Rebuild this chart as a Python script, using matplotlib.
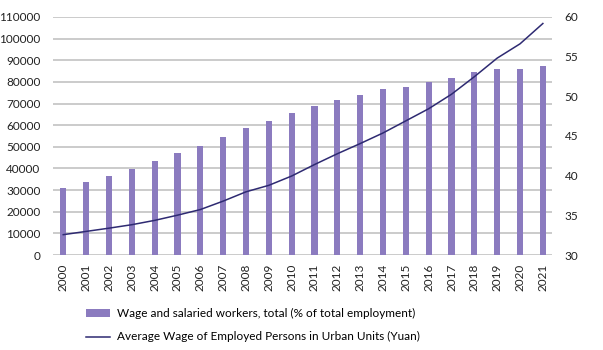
import matplotlib
matplotlib.use("Agg")
import matplotlib.pyplot as plt

years = [str(y) for y in range(2000, 2022)]
# share of wage and salaried workers (% of total employment), right axis
wage_share = [38.4, 39.2, 40.0, 40.9, 41.9, 42.8, 43.8, 44.9, 46.0, 46.9, 47.9,
              48.8, 49.6, 50.2, 50.9, 51.2, 51.8, 52.3, 53.1, 53.5, 53.5, 53.8]
# average wage of employed persons in urban units (yuan), left axis
avg_wage = [9400, 10900, 12400, 14000, 16000, 18400, 21000, 24900, 29200, 32200, 36500,
            41800, 46800, 51500, 56400, 62000, 67600, 74300, 82400, 91000, 97600, 107000]

bar_color = '#8b7bbf'
line_color = '#2e2a72'
plt.rcParams['font.family'] = ['Lato', 'DejaVu Sans']

fig = plt.figure(figsize=(6.03, 3.5), dpi=100)
rect = [53/603, 1 - 255/350, (552 - 53)/603, (255 - 17)/350]
x = list(range(len(years)))

# base axes: left scale + grid
ax = fig.add_axes(rect)
ax.set_zorder(0)
ax.set_ylim(0, 110000)
ax.set_yticks(range(0, 110001, 10000))
ax.yaxis.grid(True, color='#bdbdbd', lw=1.1)
ax.set_axisbelow(True)
ax.set_xlim(-0.45, 21.4)
ax.set_xticks(x)
ax.set_xticklabels(years, rotation=90)
for s in ax.spines.values():
    s.set_visible(False)
ax.tick_params(length=0, labelsize=8.5, colors='#222222')
ax.tick_params(axis='y', pad=9)
ax.tick_params(axis='x', pad=6)

# bars on the right scale
ax2 = ax.twinx()
ax2.set_zorder(1)
ax2.patch.set_visible(False)
bars = ax2.bar(x, wage_share, width=0.27, color=bar_color)
ax2.set_ylim(30, 60)
ax2.set_yticks(range(30, 61, 5))
for s in ax2.spines.values():
    s.set_visible(False)
ax2.tick_params(length=0, labelsize=8.5, colors='#222222', pad=9)

# line on top, same scale as base
ax3 = fig.add_axes(rect, sharex=ax, sharey=ax)
ax3.set_zorder(2)
ax3.patch.set_visible(False)
ax3.axis('off')
line, = ax3.plot(x, avg_wage, color=line_color, lw=1.1)

fig.legend([bars, line],
           ['Wage and salaried workers, total (% of total employment)',
            'Average Wage of Employed Persons in Urban Units (Yuan)'],
           loc='upper left', bbox_to_anchor=(86/603, 1 - 308/350),
           frameon=False, fontsize=8.5, handlelength=2.0, handleheight=0.6,
           handletextpad=0.6, labelspacing=1.05, borderpad=0, borderaxespad=0)

fig.savefig('out.png', dpi=100)
